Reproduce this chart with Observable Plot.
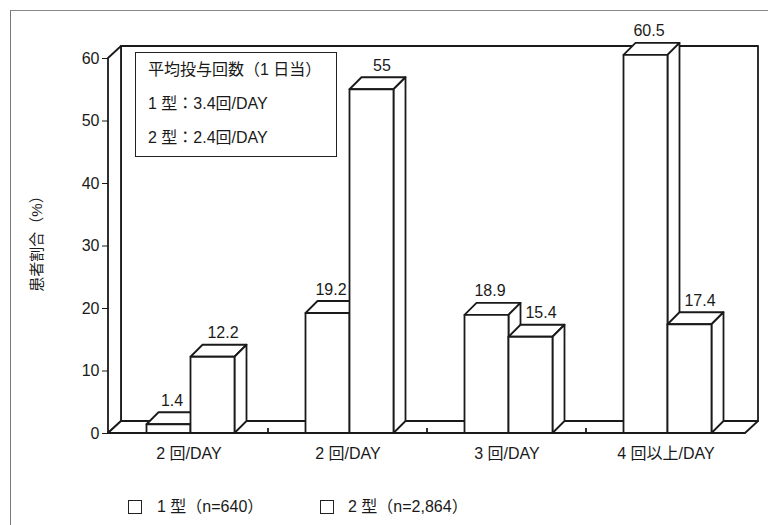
<!DOCTYPE html>
<html>
<head>
<meta charset="utf-8">
<script src="https://cdn.jsdelivr.net/npm/d3@7"></script>
<script src="https://cdn.jsdelivr.net/npm/@observablehq/plot@0.6"></script>
<style>
  body { margin: 0; background: #fff; }
  #wrap { position: relative; width: 768px; height: 525px; overflow: hidden;
          font-family: "Liberation Sans", "Noto Sans CJK JP", sans-serif; color: #1a1a1a; }
  #frame { position: absolute; left: 10px; top: 10px; right: -10px; bottom: -10px;
           border-left: 1.5px solid #777; border-top: 1.5px solid #888; }
  #chart { position: absolute; left: 0; top: 0; }
  #ytitle { position: absolute; left: 35px; top: 240px; white-space: nowrap; font-size: 15px;
            transform: translate(-50%, -50%) rotate(-90deg); }
  #note { position: absolute; left: 135px; top: 52px; width: 202px; height: 105px;
          border: 1.8px solid #222; background: #fff; box-sizing: border-box; font-size: 16px; }
  #note div { position: absolute; left: 12px; line-height: 18px; white-space: nowrap; }
  .key { position: absolute; top: 498px; font-size: 16px; line-height: 18px; white-space: nowrap; }
  .sw { position: absolute; top: 500px; width: 14px; height: 14px; border: 1.6px solid #222; box-sizing: border-box; }
</style>
</head>
<body>
<div id="wrap">
  <div id="frame"></div>
  <div id="chart"></div>
  <div id="ytitle"></div>
  <div id="note"></div>
  <div id="legend"></div>
</div>
<script>
// Dosing frequency per day vs. share of patients (%), by diabetes type
const groups = [0, 1, 2, 3];
const tickLabels = ["2 回/DAY", "2 回/DAY", "3 回/DAY", "4 回以上/DAY"];
const type1 = [1.4, 19.2, 18.9, 60.5];
const type2 = [12.2, 55, 15.4, 17.4];
const seriesNames = ["1 型（n=640）", "2 型（n=2,864）"];
const yTicks = [0, 10, 20, 30, 40, 50, 60];
const yTitle = "患者割合（%）";
const noteLines = ["平均投与回数（1 日当）", "1 型：3.4回/DAY", "2 型：2.4回/DAY"];

const rows = groups.flatMap(g => [
  {g, s: 0, v: type1[g]},
  {g, s: 1, v: type2[g]}
]);

const ink = "#1a1a1a";
const barW = 44;            // front face width of one bar
const depth = [12, -12];    // bar depth offset
const wallDepth = [13, -12];

// Walls, floor and 3-D bars, all placed with the plot's x and y scales
function box3d(index, scales) {
  const {x, y} = scales;
  const bw = x.bandwidth();
  const [xl] = x.range();
  const xr = x(groups[groups.length - 1]) + bw;
  const y0 = y(0), yTop = y(yTicks[yTicks.length - 1]);
  const [wx, wy] = wallDepth, [dx, dy] = depth;
  const g = d3.create("svg:g")
    .attr("fill", "#fff").attr("stroke", ink).attr("stroke-width", 1.8)
    .attr("stroke-linejoin", "round");
  const poly = pts => g.append("path").attr("d", "M" + pts.map(p => p.join(",")).join("L") + "Z");
  // back wall, left wall, floor
  poly([[xl + wx, yTop + wy], [xr + wx, yTop + wy], [xr + wx, y0 + wy], [xl + wx, y0 + wy]]);
  poly([[xl, yTop], [xl + wx, yTop + wy], [xl + wx, y0 + wy], [xl, y0]]);
  poly([[xl, y0], [xr, y0], [xr + wx, y0 + wy], [xl + wx, y0 + wy]]);
  // group separators on the floor's front edge
  for (const k of groups.slice(1)) {
    g.append("line").attr("x1", x(k)).attr("x2", x(k)).attr("y1", y0).attr("y2", y0 - 5);
  }
  // bars: first series first so the second covers its side face
  for (const s of [0, 1]) {
    for (const r of rows.filter(d => d.s === s)) {
      const x0 = x(r.g) + bw / 2 - barW + s * barW + 2, x1 = x0 + barW;
      const yt = y(r.v);
      poly([[x0, yt], [x1, yt], [x1 + dx, yt + dy], [x0 + dx, yt + dy]]);
      poly([[x1, yt], [x1 + dx, yt + dy], [x1 + dx, y0 + dy], [x1, y0]]);
      poly([[x0, yt], [x1, yt], [x1, y0], [x0, y0]]);
    }
  }
  return g.node();
}

const chart = Plot.plot({
  width: 768,
  height: 470,
  marginLeft: 108,
  marginRight: 23,
  marginTop: 58,
  marginBottom: 37,
  style: {fontFamily: '"Liberation Sans", "Noto Sans CJK JP", sans-serif', fontSize: "16px", color: ink, background: "transparent"},
  x: {type: "band", domain: groups, padding: 0, tickSize: 0, tickPadding: 14, tickFormat: i => tickLabels[i], label: null},
  y: {domain: [0, 60], ticks: yTicks, tickSize: 6, tickPadding: 3, label: null},
  marks: [
    box3d,
    Plot.text(rows.filter(d => d.s === 0), {x: "g", y: "v", text: d => String(d.v), dx: -17, dy: -19, lineAnchor: "bottom", fontSize: 16, fill: ink}),
    Plot.text(rows.filter(d => d.s === 1), {x: "g", y: "v", text: d => String(d.v), dx: 34, dy: -19, lineAnchor: "bottom", fontSize: 16, fill: ink})
  ]
});
document.getElementById("chart").appendChild(chart);

document.getElementById("ytitle").textContent = yTitle;

const note = document.getElementById("note");
noteLines.forEach((t, i) => {
  const d = document.createElement("div");
  d.textContent = t;
  d.style.top = (8 + i * 34) + "px";
  note.appendChild(d);
});

const legend = document.getElementById("legend");
[[128, 157], [320, 348]].forEach(([bx, tx], i) => {
  const sw = document.createElement("div");
  sw.className = "sw"; sw.style.left = bx + "px";
  const lab = document.createElement("div");
  lab.className = "key"; lab.style.left = tx + "px"; lab.textContent = seriesNames[i];
  legend.appendChild(sw); legend.appendChild(lab);
});
</script>
</body>
</html>
